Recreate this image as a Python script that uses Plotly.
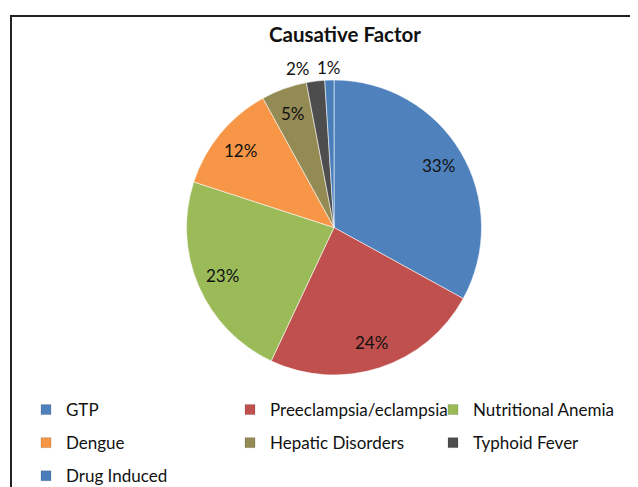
import math
import plotly.graph_objects as go

categories = ["GTP", "Preeclampsia/eclampsia", "Nutritional Anemia", "Dengue",
              "Hepatic Disorders", "Typhoid Fever", "Drug Induced"]
values = [33, 24, 23, 12, 5, 2, 1]
colors = ["#4F81BD", "#C0504D", "#9BBB59", "#F79646", "#948A54", "#4D4D4D", "#4A7EBB"]

# label styling (not data): where each percentage label sits
label_outside = [False, False, False, False, False, True, True]
label_xanchor = ["center", "center", "center", "center", "center", "right", "center"]
legend_column = ["legend", "legend2", "legend3", "legend", "legend2", "legend3", "legend"]

# page is 638x487; the html body has an 8px margin, so the figure is 630x479
PAGE_W, PAGE_H, BODY = 638, 487, 8
W, H = PAGE_W - BODY, PAGE_H - BODY
FONT = "Lato"
TXT = "#111111"


def xp(page_x):
    return (page_x - BODY) / W


def yp(page_y):
    return 1 - (page_y - BODY) / H


# pie box in page pixels
PIE_L, PIE_R, PIE_T, PIE_B = 185, 483, 80, 375

fig = go.Figure()
fig.add_trace(go.Pie(
    labels=categories, values=values, sort=False, direction="clockwise", rotation=0,
    marker=dict(colors=colors, line=dict(color="rgba(255,255,255,0.55)", width=1)),
    textinfo="none", hoverinfo="label+percent",
    showlegend=False,
    domain=dict(x=[xp(PIE_L), xp(PIE_R)], y=[yp(PIE_B), yp(PIE_T)]),
))

# percentage labels, placed from the slice angles derived from the values
cx = (PIE_L + PIE_R) / 2
cy = (PIE_T + PIE_B) / 2
R = min(PIE_R - PIE_L, PIE_B - PIE_T) / 2
total = sum(values)
annotations = []
cum = 0
for v, out, xa in zip(values, label_outside, label_xanchor):
    mid = 2 * math.pi * (cum + v / 2) / total
    cum += v
    r = R * (1.0 if out else 0.82)
    px = cx + r * math.sin(mid)
    py = cy - r * math.cos(mid)
    annotations.append(dict(
        x=xp(px), y=yp(py), xref="paper", yref="paper",
        text=f"{round(100 * v / total)}%", showarrow=False,
        xanchor=xa, yanchor="bottom" if out else "middle",
        xshift=-4 if xa == "right" else 0,
        font=dict(family=FONT, size=17, color=TXT),
    ))

# legend entries (one per category), laid out in three columns
for cat, col, lg in zip(categories, colors, legend_column):
    fig.add_trace(go.Scatter(
        x=[None], y=[None], mode="markers", name=cat,
        marker=dict(symbol="square", size=10, color=col,
                    line=dict(color="rgba(0,0,0,0.25)", width=0.5)),
        legend=lg, legendgroup=cat, showlegend=True, hoverinfo="skip",
    ))

leg_common = dict(orientation="v", yanchor="top", xanchor="left", tracegroupgap=8,
                  font=dict(family=FONT, size=17, color=TXT),
                  bgcolor="rgba(0,0,0,0)", borderwidth=0)
ytop = yp(392)
fig.update_layout(
    width=W, height=H,
    margin=dict(l=0, r=0, t=0, b=0, autoexpand=False),
    paper_bgcolor="white", plot_bgcolor="white",
    title=dict(text="<b>Causative Factor</b>", x=xp(345), y=yp(35),
               xanchor="center", yanchor="middle",
               font=dict(family=FONT, size=20.5, color=TXT)),
    xaxis=dict(visible=False), yaxis=dict(visible=False),
    legend=dict(x=xp(26), y=ytop, **leg_common),
    legend2=dict(x=xp(230), y=ytop, **leg_common),
    legend3=dict(x=xp(433), y=ytop, **leg_common),
    annotations=annotations,
    shapes=[dict(type="path", xref="paper", yref="paper",
                 path=f"M {xp(11)} 0 L {xp(11)} {yp(16)} L 1 {yp(16)}",
                 line=dict(color="#222222", width=2))],
)

fig.write_html("out.html")
